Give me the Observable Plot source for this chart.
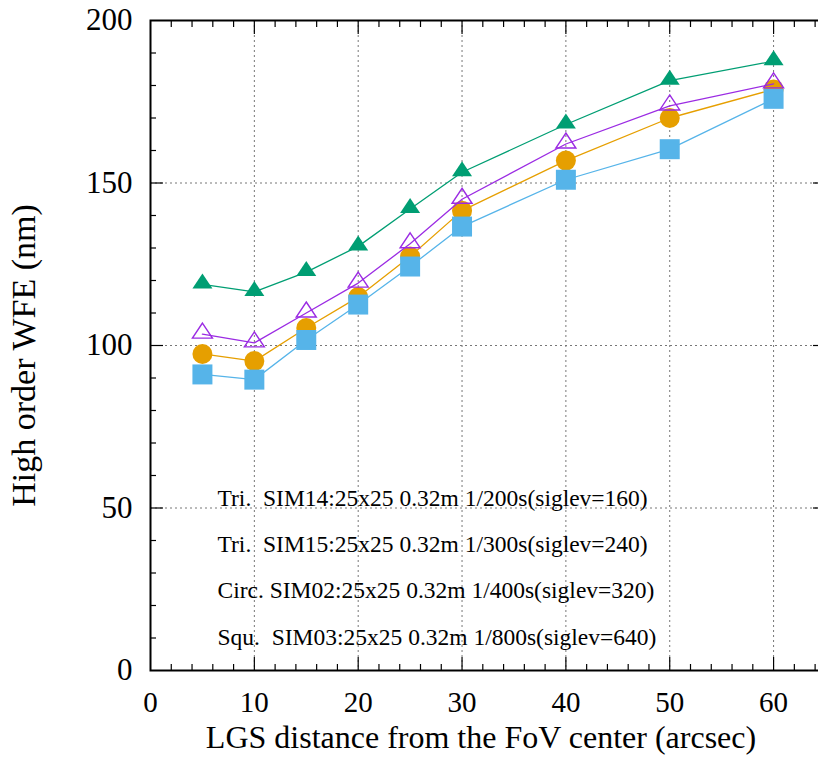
<!DOCTYPE html>
<html>
<head>
<meta charset="utf-8">
<script src="https://cdn.jsdelivr.net/npm/d3@7"></script>
<script src="https://cdn.jsdelivr.net/npm/@observablehq/plot@0.6"></script>
<style>
  html, body { margin: 0; padding: 0; background: #fff; overflow: hidden; width: 818px; height: 762px; }
  #chart svg { overflow: hidden; }
  #chart svg text { white-space: pre; }
</style>
</head>
<body>
<div id="chart"></div>
<script>
// ---- data ----
const distance = [5, 10, 15, 20, 25, 30, 40, 50, 60];
const sim14 = [118.8, 116.5, 122.6, 130.5, 142, 153.3, 168, 181.5, 187.5];   // green filled triangles
const sim15 = [103.5, 100.8, 110, 119.2, 131.3, 145, 162, 173.7, 180.5];     // purple open triangles
const sim02 = [97.4, 95.2, 105.4, 114.9, 127.4, 141.5, 156.9, 170, 178.8];   // orange circles
const sim03 = [91.1, 89.5, 101.7, 112.6, 124.3, 136.6, 151, 160.4, 175.9];   // blue squares

const legendLabels = [
  "Tri.  SIM14:25x25 0.32m 1/200s(siglev=160)",
  "Tri.  SIM15:25x25 0.32m 1/300s(siglev=240)",
  "Circ. SIM02:25x25 0.32m 1/400s(siglev=320)",
  "Squ.  SIM03:25x25 0.32m 1/800s(siglev=640)"
];
const xTicks = [0, 10, 20, 30, 40, 50, 60];
const yTicks = [0, 50, 100, 150, 200];
const xGrid = [10, 20, 30, 40, 50, 60];
const yGrid = [50, 100, 150];
const xMinor = d3.range(0, 65, 2).filter(v => v % 10 !== 0);
const yMinor = d3.range(0, 201, 10).filter(v => v % 50 !== 0);
const xMajorTicks = [10, 20, 30, 40, 50, 60];
const yMajorTicks = [50, 100, 150];

const xLabel = "LGS distance from the FoV center (arcsec)";
const yLabel = "High order WFE (nm)";

// ---- build tables ----
const toRows = vals => distance.map((d, i) => ({x: d, y: vals[i]}));
const rows14 = toRows(sim14), rows15 = toRows(sim15), rows02 = toRows(sim02), rows03 = toRows(sim03);

// gnuplot-like triangle (wider than equilateral, anchored near its base)
const gpTriangle = {
  draw(context, size) {
    const r = Math.sqrt(size / Math.PI);
    context.moveTo(0, -1.1 * r);
    context.lineTo(r, 0.4 * r);
    context.lineTo(-r, 0.4 * r);
    context.closePath();
  }
};

const font = "'Liberation Serif', 'DejaVu Serif', serif";
const cGreen = "#009E73", cPurple = "#9b2be3", cOrange = "#E69F00", cBlue = "#56B4E9";

const gridStyle = {stroke: "#777", strokeOpacity: 1, strokeWidth: 1, strokeDasharray: "2,3"};

const chart = Plot.plot({
  width: 818,
  height: 762,
  marginLeft: 150,
  marginRight: -7,
  marginTop: 20,
  marginBottom: 92,
  style: {fontFamily: font, background: "white", overflow: "hidden"},
  x: {domain: [0, 65]},
  y: {domain: [0, 200]},
  marks: [
    Plot.gridX(xGrid, gridStyle),
    Plot.gridY(yGrid, gridStyle),
    // inward ticks
    Plot.axisX(xMajorTicks, {anchor: "bottom", tickSize: -13, text: null, label: null, strokeWidth: 1.2}),
    Plot.axisX(xMinor, {anchor: "bottom", tickSize: -6, text: null, label: null, strokeWidth: 1.2}),
    Plot.axisX(xMajorTicks, {anchor: "top", tickSize: -13, text: null, label: null, strokeWidth: 1.2}),
    Plot.axisX(xMinor, {anchor: "top", tickSize: -6, text: null, label: null, strokeWidth: 1.2}),
    Plot.axisY(yMajorTicks, {anchor: "left", tickSize: -13, text: null, label: null, strokeWidth: 1.2}),
    Plot.axisY(yMinor, {anchor: "left", tickSize: -6, text: null, label: null, strokeWidth: 1.2}),
    Plot.axisY(yMajorTicks, {anchor: "right", tickSize: -13, text: null, label: null, strokeWidth: 1.2}),
    Plot.axisY(yMinor, {anchor: "right", tickSize: -6, text: null, label: null, strokeWidth: 1.2}),
    // tick labels
    Plot.axisX(xTicks, {anchor: "bottom", tickSize: 0, tickPadding: 21, label: null, fontSize: 29, fill: "black"}),
    Plot.axisY(yTicks, {anchor: "left", tickSize: 0, tickPadding: 18, label: null, fontSize: 31, fill: "black"}),
    // axis titles
    Plot.text([xLabel], {frameAnchor: "bottom", dy: 77, dx: -7, fontSize: 32, fill: "black"}),
    Plot.text([yLabel], {frameAnchor: "left", textAnchor: "middle", dx: -126, dy: 10, rotate: -90, fontSize: 34, fill: "black"}),
    // legend text (no markers)
    Plot.text([legendLabels.join("\n")], {
      frameAnchor: "bottom-left", textAnchor: "start", lineAnchor: "middle",
      lineHeight: 1.97, dx: 67, dy: -110, fontSize: 23.5, fill: "black"
    }),
    // series
    Plot.line(rows14, {x: "x", y: "y", stroke: cGreen, strokeWidth: 1.3}),
    Plot.dot(rows14, {x: "x", y: "y", symbol: gpTriangle, r: 10, fill: cGreen}),
    Plot.line(rows02, {x: "x", y: "y", stroke: cOrange, strokeWidth: 1.3}),
    Plot.dot(rows02, {x: "x", y: "y", symbol: "circle", r: 10, fill: cOrange}),
    Plot.line(rows03, {x: "x", y: "y", stroke: cBlue, strokeWidth: 1.3}),
    Plot.dot(rows03, {x: "x", y: "y", symbol: "square", r: 11.28, fill: cBlue}),
    Plot.line(rows15, {x: "x", y: "y", stroke: cPurple, strokeWidth: 1.3}),
    Plot.dot(rows15, {x: "x", y: "y", symbol: gpTriangle, r: 10, fill: "none", stroke: cPurple, strokeWidth: 1.4}),
    Plot.frame({stroke: "black", strokeWidth: 2})
  ]
});
document.getElementById("chart").appendChild(chart);
</script>
</body>
</html>
